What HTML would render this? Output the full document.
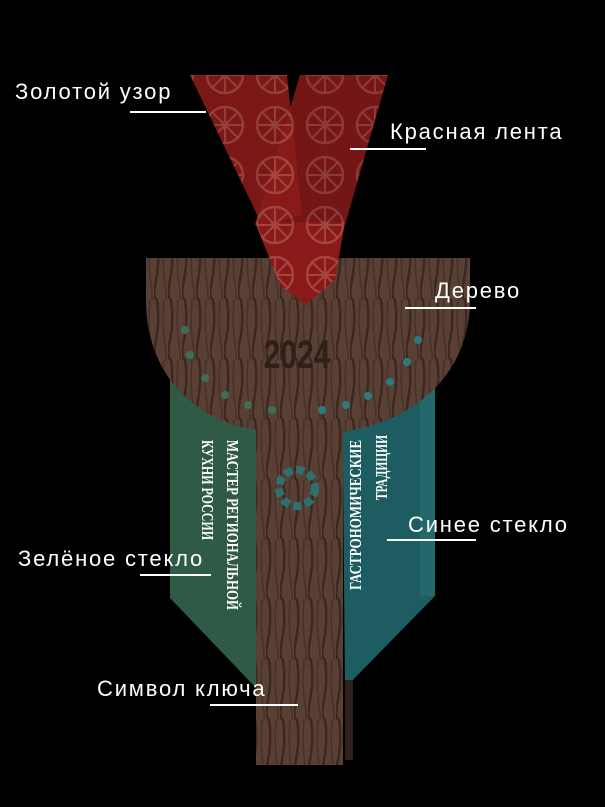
<!DOCTYPE html>
<html><head><meta charset="utf-8"><style>
html,body{margin:0;padding:0;background:#000;width:605px;height:807px;overflow:hidden}
.l{position:absolute;color:#fff;font-family:"Liberation Sans",sans-serif;font-size:22px;letter-spacing:1.8px;white-space:nowrap}
.u{position:absolute;height:2px;background:#fff}
</style></head><body>
<svg width="605" height="807" style="position:absolute;left:0;top:0">
<defs>
<pattern id="grain" width="14" height="60" patternUnits="userSpaceOnUse">
<rect width="14" height="60" fill="#5a4034"/>
<path d="M3 0 Q6 20 2 40 T4 60" stroke="#3b2820" stroke-width="2.5" fill="none"/>
<path d="M10 0 Q8 25 11 45 T9 60" stroke="#45302a" stroke-width="1.5" fill="none"/>
</pattern>
<pattern id="rib" width="50" height="50" patternUnits="userSpaceOnUse">
<rect width="50" height="50" fill="#8a1a1a"/>
<circle cx="25" cy="25" r="18" fill="none" stroke="#a3453c" stroke-width="2.5"/>
<path d="M25 7V43M7 25H43M12 12L38 38M38 12L12 38" stroke="#a3453c" stroke-width="2"/>
<circle cx="25" cy="25" r="4" fill="#a3453c"/>
</pattern>
</defs>
<polygon points="170,360 258,360 258,690 170,598" fill="#2f5a45"/>
<polygon points="342,360 435,360 435,596 345,688" fill="#1d5c60"/>
<rect x="420" y="360" width="15" height="236" fill="#2a7075" opacity="0.6"/>
<path d="M146,258 H470 V300 C470,370 420,420 343,432 V765 H256 V430 C190,420 146,370 146,300 Z" fill="url(#grain)"/>
<rect x="345" y="680" width="8" height="80" fill="#2e201a"/>
<g fill="#3d6e5a">
<circle cx="185" cy="330" r="4"/><circle cx="190" cy="355" r="4"/><circle cx="205" cy="378" r="4"/><circle cx="225" cy="395" r="4"/><circle cx="248" cy="405" r="4"/><circle cx="272" cy="410" r="4"/>
</g>
<g fill="#2d7a7e">
<circle cx="322" cy="410" r="4"/><circle cx="346" cy="405" r="4"/><circle cx="368" cy="396" r="4"/><circle cx="390" cy="382" r="4"/><circle cx="407" cy="362" r="4"/><circle cx="418" cy="340" r="4"/>
</g>
<circle cx="297" cy="488" r="18" fill="none" stroke="#2d7070" stroke-width="8" stroke-dasharray="8 4"/>
<text x="297" y="368" text-anchor="middle" font-family="Liberation Sans,sans-serif" font-size="40" font-weight="bold" fill="#2e2019" transform="translate(297 0) scale(0.75 1) translate(-297 0)">2024</text>
<polygon points="190,75 287,75 302,215 262,225" fill="url(#rib)" opacity="0.9"/>
<polygon points="300,75 388,75 345,225 255,225" fill="url(#rib)" opacity="0.85"/>
<path d="M255,222 H345 L335,280 L305,305 L280,285 Z" fill="url(#rib)"/>
<g font-family="Liberation Serif,serif" font-size="17" fill="#fff" font-weight="bold">
<text transform="translate(227,440) rotate(90)" textLength="170" lengthAdjust="spacingAndGlyphs">МАСТЕР РЕГИОНАЛЬНОЙ</text>
<text transform="translate(202,440) rotate(90)" textLength="100" lengthAdjust="spacingAndGlyphs">КУХНИ РОССИИ</text>
<text transform="translate(361,590) rotate(-90)" textLength="150" lengthAdjust="spacingAndGlyphs">ГАСТРОНОМИЧЕСКИЕ</text>
<text transform="translate(387,500) rotate(-90)" textLength="65" lengthAdjust="spacingAndGlyphs">ТРАДИЦИИ</text>
</g>
</svg>
<div class="l" style="left:15px;top:79px">Золотой узор</div><div class="u" style="left:130px;top:111px;width:76px"></div>
<div class="l" style="left:390px;top:119px">Красная лента</div><div class="u" style="left:350px;top:148px;width:76px"></div>
<div class="l" style="left:435px;top:278px">Дерево</div><div class="u" style="left:405px;top:307px;width:71px"></div>
<div class="l" style="left:408px;top:512px">Синее стекло</div><div class="u" style="left:387px;top:539px;width:89px"></div>
<div class="l" style="left:18px;top:546px">Зелёное стекло</div><div class="u" style="left:140px;top:574px;width:71px"></div>
<div class="l" style="left:97px;top:676px">Символ ключа</div><div class="u" style="left:210px;top:704px;width:88px"></div>
</body></html>
